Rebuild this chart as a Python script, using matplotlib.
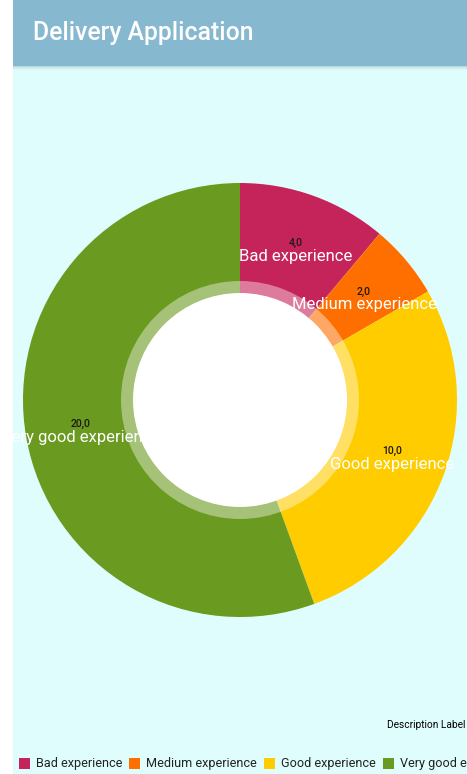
import numpy as np
import matplotlib
matplotlib.use('Agg')
import matplotlib.pyplot as plt
from matplotlib.patches import Rectangle, Circle
from matplotlib.transforms import offset_copy

plt.rcParams['font.family'] = ['Roboto', 'DejaVu Sans']

# data
categories = ['Bad experience', 'Medium experience', 'Good experience', 'Very good experience']
values = [4.0, 2.0, 10.0, 20.0]
colors = ['#C5245A', '#FF6F00', '#FFCC00', '#6A9A1F']
title = 'Delivery Application'
description = 'Description Label'

W, H = 467, 774
fig = plt.figure(figsize=(W / 100, H / 100), dpi=100)
fig.patch.set_facecolor('white')

# background canvas in pixel coords
bg = fig.add_axes([0, 0, 1, 1])
bg.set_xlim(0, W)
bg.set_ylim(H, 0)
bg.axis('off')
bg.add_patch(Rectangle((13, 0), W - 13, H, color='#E0FDFD', zorder=0))
# header bar with a soft shadow
for i, a in enumerate([0.35, 0.22, 0.12, 0.05]):
    bg.add_patch(Rectangle((13, 66 + i), W - 13, 1, color='#6F9AAE', alpha=a, lw=0, zorder=1))
bg.add_patch(Rectangle((13, 0), W - 13, 66, color='#86B8CF', lw=0, zorder=2))
bg.text(33, 33, title, color='white', fontsize=17.8, fontweight='medium', va='center', ha='left', zorder=3)

# pie
R_px = 217
cx, cy = 240, 400
pax = fig.add_axes([(cx - R_px) / W, (H - cy - R_px) / H, 2 * R_px / W, 2 * R_px / H])
pax.set_xlim(-1, 1)
pax.set_ylim(-1, 1)
pax.axis('off')
pax.patch.set_visible(False)
wedges, _ = pax.pie(values, colors=colors, startangle=90, counterclock=False,
                    radius=1.0, center=(0, 0), wedgeprops=dict(linewidth=0))
pax.set_xlim(-1, 1)
pax.set_ylim(-1, 1)
pax.add_patch(Circle((0, 0), 119 / R_px, color='white', alpha=0.4, lw=0, zorder=5))
pax.add_patch(Circle((0, 0), 107 / R_px, color='white', lw=0, zorder=6))

clip = Rectangle((13, 0), 434, H, transform=bg.transData, visible=False)
bg.add_patch(clip)

total = sum(values)
r_lab = (1 + 107 / R_px) / 2
start = 90.0
for cat, v in zip(categories, values):
    sweep = 360.0 * v / total
    mid = np.deg2rad(start - sweep / 2)
    start -= sweep
    x, y = r_lab * np.cos(mid), r_lab * np.sin(mid)
    t1 = pax.text(x, y, f'{v:.1f}'.replace('.', ','), fontsize=7.5, fontweight='medium',
                  color='#1A1A1A', ha='center', va='baseline', zorder=10,
                  transform=offset_copy(pax.transData, fig=fig, y=1, units='points'))
    t2 = pax.text(x, y, cat, fontsize=12, color='white', ha='center', va='top', zorder=10,
                  transform=offset_copy(pax.transData, fig=fig, y=-1, units='points'))
    for t in (t1, t2):
        t.set_clip_path(clip)

# description
bg.text(465, 725, description, fontsize=7.3, color='black', ha='right', va='center', zorder=3)

# legend (runs off the right edge, as in the app screenshot)
x = 19
for cat, c in zip(categories, colors):
    bg.add_patch(Rectangle((x, 758), 11, 11, color=c, lw=0, zorder=3))
    t = bg.text(x + 17, 764, cat, fontsize=9.1, color='#222222', ha='left', va='center', zorder=3)
    fig.canvas.draw()
    bb = t.get_window_extent()
    x = x + 17 + bb.width + 7

fig.savefig('out.png', dpi=100)
